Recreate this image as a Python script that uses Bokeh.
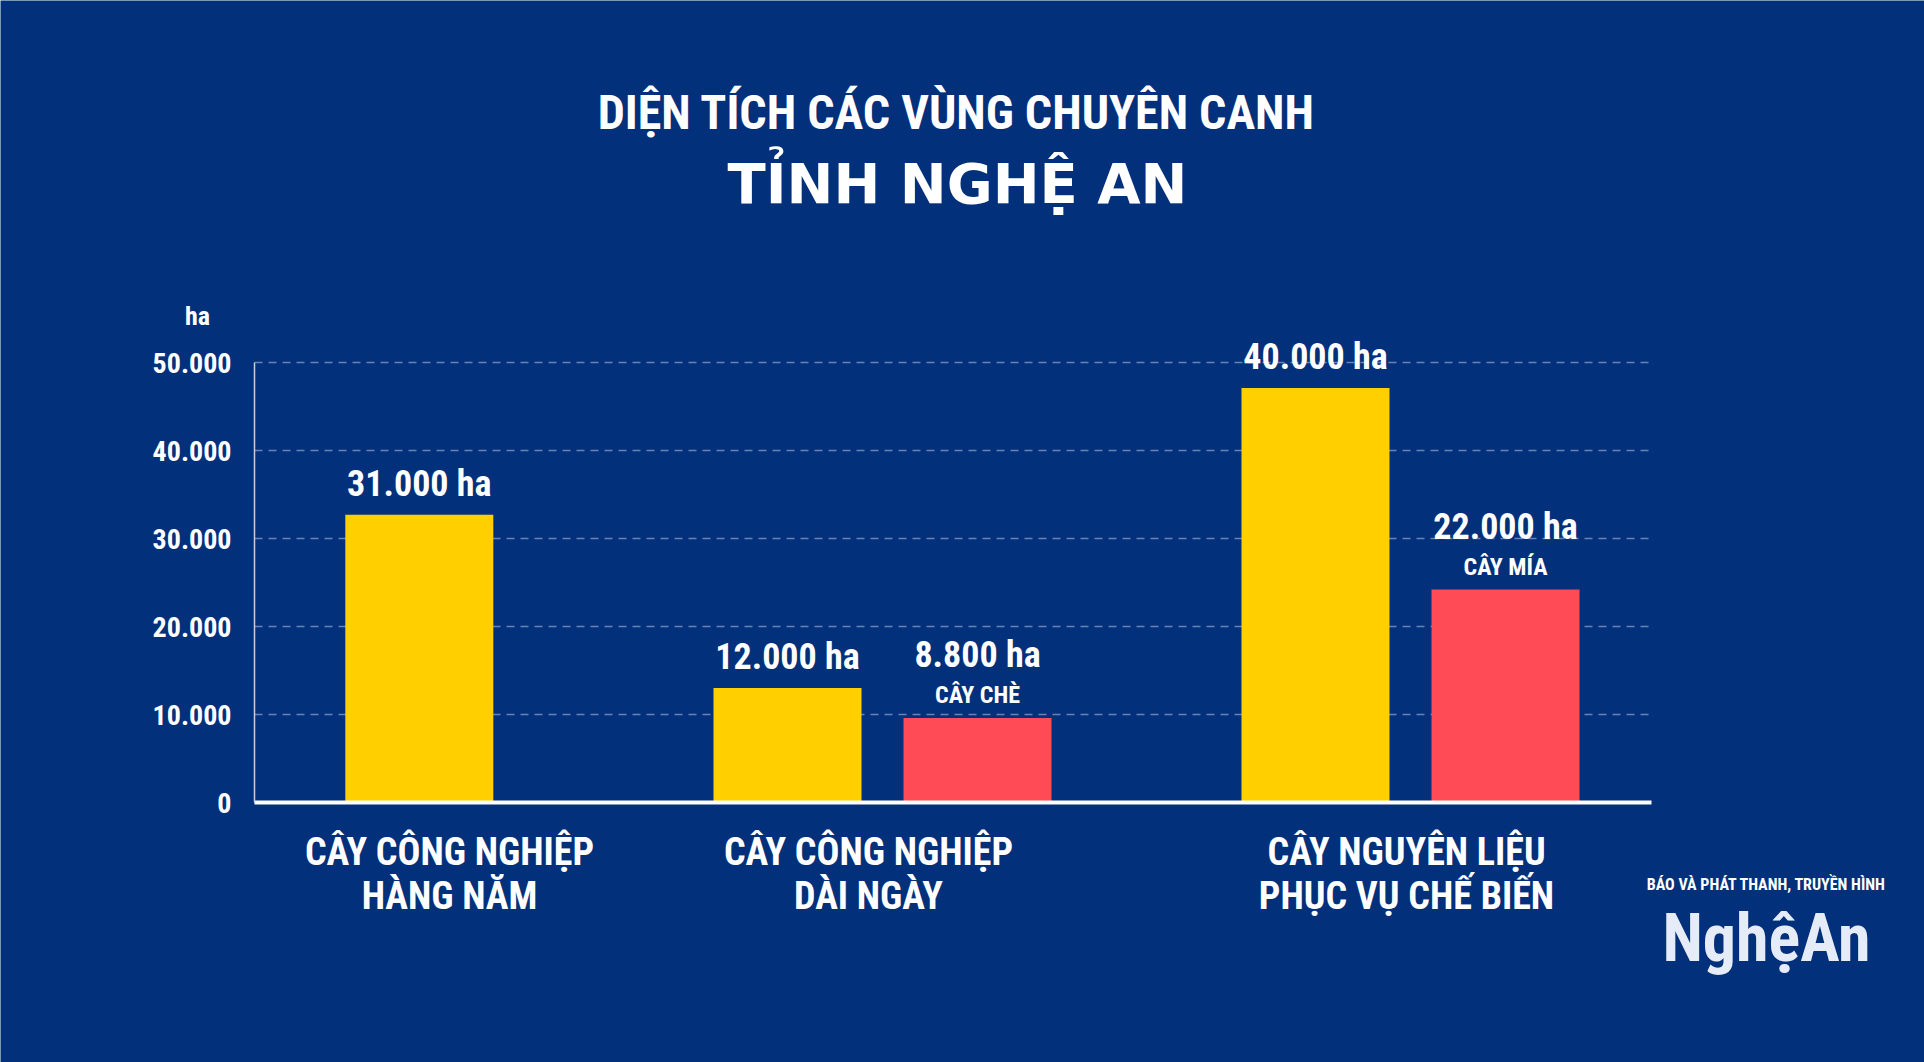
from bokeh.plotting import figure
from bokeh.models import Range1d, FixedTicker, Label, ColumnDataSource
from bokeh.core.properties import value
from bokeh.embed import file_html
from bokeh.resources import INLINE

# ---------------- data ----------------
categories = ["CÂY CÔNG NGHIỆP\nHÀNG NĂM", "CÂY CÔNG NGHIỆP\nDÀI NGÀY", "CÂY NGUYÊN LIỆU\nPHỤC VỤ CHẾ BIẾN"]
total_area = [32700, 13000, 47100]          # yellow bars, heights as drawn
total_labels = ["31.000 ha", "12.000 ha", "40.000 ha"]
crop_area = [9600, 24200]                   # red bars (groups 2 and 3)
crop_labels = ["8.800 ha", "22.000 ha"]
crop_names = ["CÂY CHÈ", "CÂY MÍA"]
y_ticks = [0, 10000, 20000, 30000, 40000, 50000]
y_tick_labels = ["0", "10.000", "20.000", "30.000", "40.000", "50.000"]

# ---------------- layout / style ----------------
W, H = 1924, 1062
X0, Y0 = 254, 802          # pixel position of the axes origin
PX_PER_UNIT_Y = 8.8 / 1000  # pixels per hectare
PLOT_W = 1397              # length of the x axis in pixels

BG = "#03307a"
YELLOW = "#ffcf00"
RED = "#ff4b55"
WHITE = "#ffffff"
COND = "'Roboto Condensed', 'Liberation Sans Narrow', 'DejaVu Sans Condensed', sans-serif"

group_x = [164.8, 628, 1156]
pair_off = 95
bar_w = 148
cat_label_x = [195, 614, 1152]

p = figure(width=W, height=H, output_backend="svg", toolbar_location=None,
           x_range=Range1d(-X0, W - X0),
           y_range=Range1d(-(H - Y0) / PX_PER_UNIT_Y, Y0 / PX_PER_UNIT_Y),
           background_fill_color=BG, border_fill_color=BG, outline_line_color=None,
           min_border=0)

# dashed grid lines (only across the plotting area)
p.segment(x0=[0] * len(y_ticks), x1=[PLOT_W] * len(y_ticks), y0=y_ticks, y1=y_ticks,
          line_color="#8e9cc4", line_alpha=0.75, line_width=1.5, line_dash="8 6")
p.xgrid.visible = False
p.ygrid.visible = False

# yellow bars
yx = [group_x[0], group_x[1] - pair_off, group_x[2] - pair_off]
ysrc = ColumnDataSource(dict(x=yx, top=total_area, lab=total_labels))
p.vbar(x="x", top="top", bottom=0, width=bar_w, source=ysrc, fill_color=YELLOW, line_color=None)

# red bars
rx = [group_x[1] + pair_off, group_x[2] + pair_off]
rsrc = ColumnDataSource(dict(x=rx, top=crop_area, lab=crop_labels, name=crop_names))
p.vbar(x="x", top="top", bottom=0, width=bar_w, source=rsrc, fill_color=RED, line_color=None)

# value labels
p.text(x="x", y="top", text="lab", source=ysrc, y_offset=-31, text_align="center",
       text_baseline="alphabetic", text_color=WHITE, text_font=value(COND),
       text_font_size="36px", text_font_style="bold")
p.text(x="x", y="top", text="lab", source=rsrc, y_offset=-63, text_align="center",
       text_baseline="alphabetic", text_color=WHITE, text_font=value(COND),
       text_font_size="36px", text_font_style="bold")
p.text(x="x", y="top", text="name", source=rsrc, y_offset=-23, text_align="center",
       text_baseline="alphabetic", text_color=WHITE, text_font=value(COND),
       text_font_size="24px", text_font_style="bold")

# y axis
ya = p.yaxis[0]
ya.fixed_location = 0
ya.ticker = FixedTicker(ticks=y_ticks)
ya.major_label_overrides = {t: l for t, l in zip(y_ticks, y_tick_labels)}
ya.bounds = (0, 50000)
ya.axis_line_color = "#c5cde0"
ya.axis_line_width = 1.5
ya.major_tick_line_color = None
ya.minor_tick_line_color = None
ya.major_label_standoff = 17
ya.major_label_text_color = WHITE
ya.major_label_text_font = COND
ya.major_label_text_font_size = "28px"
ya.major_label_text_font_style = "bold"

# x axis
xa = p.xaxis[0]
xa.fixed_location = 0
xa.ticker = FixedTicker(ticks=cat_label_x)
xa.major_label_overrides = {x: c for x, c in zip(cat_label_x, categories)}
xa.bounds = (0, PLOT_W)
xa.axis_line_color = WHITE
xa.axis_line_width = 4
xa.major_tick_line_color = None
xa.minor_tick_line_color = None
xa.major_label_standoff = 21
xa.major_label_text_color = WHITE
xa.major_label_text_font = COND
xa.major_label_text_font_size = "38px"
xa.major_label_text_font_style = "bold"
xa.major_label_text_line_height = 1.0


def at(px, py):
    return dict(x=px, y=H - py, x_units="screen", y_units="screen")


def label(px, py, text, size, font=COND, color=WHITE):
    p.add_layout(Label(**at(px, py), text=text, text_align="center",
                       text_baseline="alphabetic", text_color=color, text_font=font,
                       text_font_size=size, text_font_style="bold"))


label(956, 112, "DIỆN TÍCH CÁC VÙNG CHUYÊN CANH", "48px")
label(957, 183, "TỈNH NGHỆ AN", "56px", font="DejaVu Sans")
label(197, 315, "ha", "26px")
label(1766, 884, "BÁO VÀ PHÁT THANH, TRUYỀN HÌNH", "16px")
label(1766, 938, "NghệAn", "66px", color="#e6ecf7")

open("out.html", "w").write(file_html(p, INLINE))
